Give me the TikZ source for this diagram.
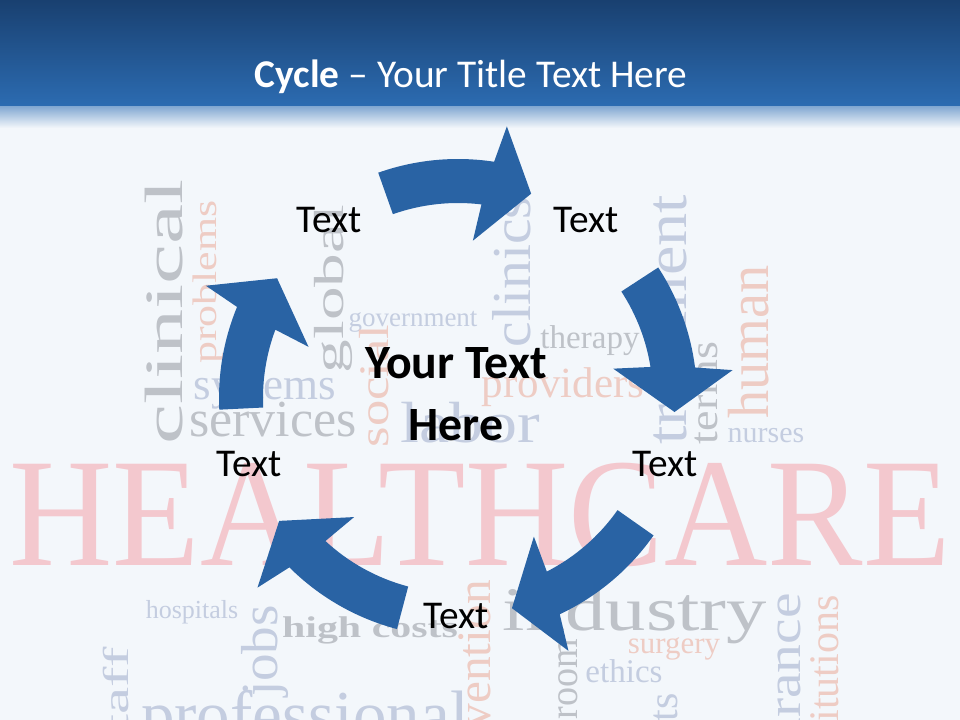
\documentclass[tikz,border=0pt]{standalone}
\usepackage{fontspec}
\setmainfont{Carlito}
\newfontfamily\wordfont{Liberation Serif}
\usepackage{tikz}

\definecolor{titletop}{RGB}{25,64,112}
\definecolor{titlebot}{RGB}{44,108,178}
\definecolor{slidebg}{RGB}{243,247,251}
\definecolor{arrowblue}{RGB}{41,99,164}
\definecolor{wgray}{RGB}{190,194,200}
\definecolor{wpink}{RGB}{238,204,196}
\definecolor{wblue}{RGB}{196,205,224}
\definecolor{wcare}{RGB}{243,200,206}

\newcommand{\wsz}[1]{\fontsize{#1}{#1}\selectfont}

% one curved block arrow: tail, head inner, head outer, tip (angles, clockwise)
\newcommand{\cyclearrow}[4]{%
  \pgfmathsetmacro\shaftout{#2+0.686*(#3-#2)}%
  \pgfmathsetmacro\shaftin{#2+0.314*(#3-#2)}%
  \fill[arrowfill] (#1:239) arc[start angle=#1, end angle=\shaftout, radius=239]
    -- (#3:276) -- (#4:217) -- (#2:158) -- (\shaftin:195)
    arc[start angle=\shaftin, end angle=#1, radius=195] -- cycle;
}

\begin{document}
\begin{tikzpicture}[
        x=0.025cm, y=-0.025cm,
        word/.style={inner sep=0pt, anchor=base, font=\wordfont\wsz{#1}},
        grayword/.style={text=wgray},
        pinkword/.style={text=wpink},
        blueword/.style={text=wblue},
        arrowfill/.style={fill=arrowblue},
        celltext/.style={inner sep=0pt, anchor=base, font=\fontsize{28}{34}\selectfont},
        hubtext/.style={inner sep=0pt, align=center, font=\bfseries\fontsize{34}{44}\selectfont}
    ]
        \useasboundingbox (0,0) rectangle (960,720);
        \clip (0,0) rectangle (960,720);
        \fill[slidebg] (0,0) rectangle (960,720);

        % word cloud behind the cycle
        \node[word=38.4, grayword, rotate=90, xscale=1.67] (clinical) at (182,312) {clinical};
        \node[word=24.2, pinkword, rotate=90, xscale=1.29] (problems) at (216,282) {problems};
        \node[word=29.9, grayword, rotate=90, xscale=1.6] (global) at (343,289) {global};
        \node[word=19.2, blueword] (government) at (413,327) {government};
        \node[word=32, blueword] (systems) at (265,400) {systems};
        \node[word=37, grayword] (services) at (273,437) {services};
        \node[word=29.9, pinkword, rotate=90, xscale=1.25] (social) at (388,386) {social};
        \node[word=41.3, blueword, xscale=1.17] (labor) at (470,443) {labor};
        \node[word=39, blueword, rotate=90, xscale=1.05] (clinics) at (530,272) {clinics};
        \node[word=23.5, grayword] (therapy) at (590,349) {therapy};
        \node[word=30.6, pinkword] (providers) at (563,398) {providers};
        \node[word=41.3, blueword, rotate=90, xscale=1.14] (treatment) at (686,320) {treatment};
        \node[word=28.5, grayword, rotate=90, xscale=1.15] (terms) at (717,393) {terms};
        \node[word=41.3, pinkword, rotate=90, xscale=0.97] (human) at (768,342) {human};
        \node[word=21.3, blueword] (nurses) at (766,443) {nurses};
        \node[word=110, text=wcare, xscale=0.925] (healthcare) at (480,566) {HEALTHCARE};
        \node[word=18.5, blueword] (hospitals) at (192,618) {hospitals};
        \node[word=37, blueword, rotate=90, xscale=1.06] (jobs) at (277,651) {jobs};
        \node[word=21.3, grayword, xscale=1.4] (highcosts) at (370,637) {\bfseries high costs};
        \node[word=25.6, blueword, rotate=90, xscale=1.7, anchor=base east] (staff) at (128,647) {staff};
        \node[word=47.7, blueword] (professional) at (305,737) {professional};
        \node[word=34.1, pinkword, rotate=90, xscale=1.03, anchor=base east] (prevention) at (490,580) {prevention};
        \node[word=44.1, grayword, xscale=1.3] (industry) at (635,630) {industry};
        \node[word=22, pinkword] (surgery) at (674,653) {surgery};
        \node[word=28.5, grayword, rotate=90, xscale=0.95] (room) at (577,679) {room};
        \node[word=23.5, blueword] (ethics) at (624,682) {ethics};
        \node[word=29.9, blueword, rotate=90, anchor=base east] (patients) at (677,693) {patients};
        \node[word=34.1, blueword, rotate=90, xscale=1.2, anchor=base east] (insurance) at (800,593) {insurance};
        \node[word=29.9, pinkword, rotate=90, anchor=base east] (institutions) at (838,595) {institutions};

        % title band
        \fill[top color=titletop, bottom color=titlebot] (0,0) rectangle (960,107);
        \fill[top color=titlebot!55!slidebg, bottom color=slidebg] (0,107) rectangle (960,128);
        \node[inner sep=0pt, anchor=base, text=white, font=\fontsize{28}{34}\selectfont] (title) at (471,88)
            {\textbf{Cycle} – Your Title Text Here};

        % five arrows of the cycle
        \begin{scope}[shift={(458,398)}]
            \foreach \tl/\hin/\hout/\tp in {-109.5/-84.6/-79.8/-70.3, -33.1/-10.7/-5.8/3.7,
                35.1/61.3/66.4/75.6, 104.8/131.1/136.6/145.5, 177.2/198.9/204/213.5}
                \cyclearrow{\tl}{\hin}{\hout}{\tp};
        \end{scope}

        % labels
        \node[celltext] (text1) at (329,233) {Text};
        \node[celltext] (text2) at (586,233) {Text};
        \node[celltext] (text3) at (665,477) {Text};
        \node[celltext] (text4) at (456,628) {Text};
        \node[celltext] (text5) at (249,477) {Text};
        \node[hubtext] (hub) at (456,394) {Your Text\\Here};

    \end{tikzpicture}
\end{document}
